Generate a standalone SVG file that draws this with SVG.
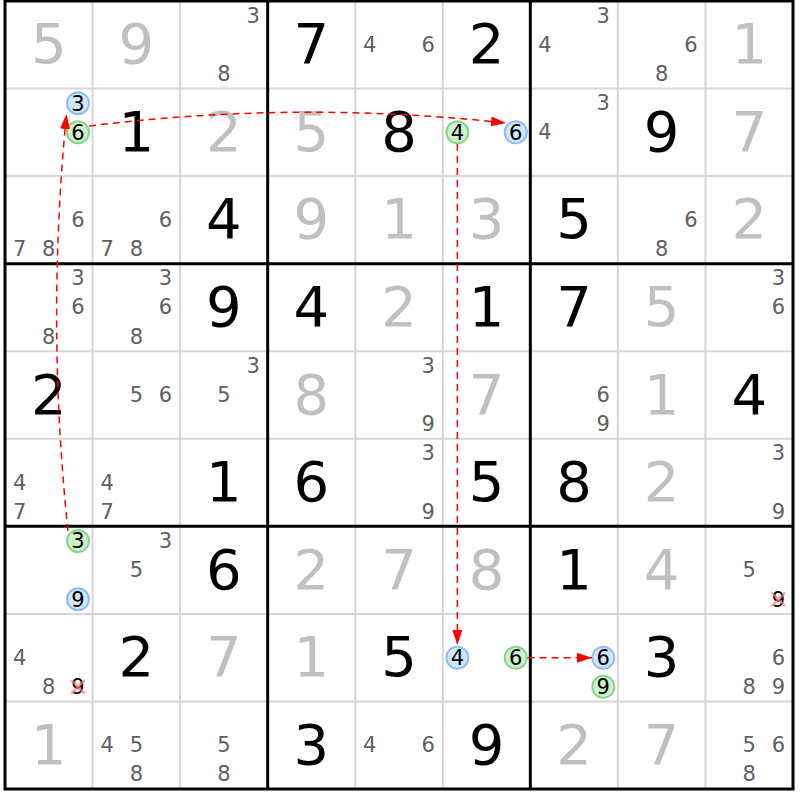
<svg xmlns="http://www.w3.org/2000/svg" width="800" height="800" viewBox="0 0 800 800">
<style>
text{font-family:"DejaVu Sans","Liberation Sans",sans-serif;text-anchor:middle}
.g{font-size:56px;fill:#000}
.s{font-size:56px;fill:#c0c0c0}
.c{font-size:21px;fill:#606060}
.k{font-size:21px;fill:#000}
.thin{stroke:#d6d6d6;stroke-width:2;fill:none}
.thick{stroke:#000;stroke-width:3;fill:none}
.blue{fill:#d2e6fc;stroke:#8ebdf3;stroke-width:2}
.green{fill:#cdf0cd;stroke:#86d686;stroke-width:2}
.x{stroke:#ff7070;stroke-opacity:0.7;stroke-width:2.5;stroke-linecap:round}
.link{stroke:#ff0000;stroke-width:1.5;fill:none;stroke-dasharray:7 5}
</style>
<defs>
<marker id="ah" markerUnits="userSpaceOnUse" markerWidth="16" markerHeight="11" refX="15" refY="5" orient="auto">
<path d="M0,0 L15,5 L0,10 Z" fill="#ff0000"/>
</marker>
</defs>
<rect x="0" y="0" width="800" height="800" fill="#fff"/>
<g id="grid">
<path class="thin" d="M92.56,1V789M180.11,1V789M355.22,1V789M442.78,1V789M617.89,1V789M705.44,1V789M5,88.56H793M5,176.11H793M5,351.22H793M5,438.78H793M5,613.89H793M5,701.44H793"/>
<path class="thick" d="M267.67,1V789M530.33,1V789M5,263.67H793M5,526.33H793"/>
<rect class="thick" x="5" y="1" width="788" height="788"/>
</g>
<g id="r0">
<g id="r0c0"><text class="s" x="48.78" y="63.3">5</text></g>
<g id="r0c1"><text class="s" x="136.33" y="63.3">9</text></g>
<g id="r0c2"><text class="c" x="253.08" y="22.6">3</text><text class="c" x="223.89" y="81">8</text></g>
<g id="r0c3"><text class="g" x="311.44" y="63.3">7</text></g>
<g id="r0c4"><text class="c" x="369.81" y="51.8">4</text><text class="c" x="428.19" y="51.8">6</text></g>
<g id="r0c5"><text class="g" x="486.56" y="63.3">2</text></g>
<g id="r0c6"><text class="c" x="603.3" y="22.6">3</text><text class="c" x="544.92" y="51.8">4</text></g>
<g id="r0c7"><text class="c" x="690.86" y="51.8">6</text><text class="c" x="661.67" y="81">8</text></g>
<g id="r0c8"><text class="s" x="749.22" y="63.3">1</text></g>
</g>
<g id="r1">
<g id="r1c0"><circle class="blue" cx="77.97" cy="103.14" r="11"/><text class="k" x="77.97" y="110.6">3</text><circle class="green" cx="77.97" cy="132.33" r="11"/><text class="k" x="77.97" y="139.8">6</text></g>
<g id="r1c1"><text class="g" x="136.33" y="150.8">1</text></g>
<g id="r1c2"><text class="s" x="223.89" y="150.8">2</text></g>
<g id="r1c3"><text class="s" x="311.44" y="150.8">5</text></g>
<g id="r1c4"><text class="g" x="399" y="150.8">8</text></g>
<g id="r1c5"><circle class="green" cx="457.37" cy="132.33" r="11"/><text class="k" x="457.37" y="139.8">4</text><circle class="blue" cx="515.75" cy="132.33" r="11"/><text class="k" x="515.75" y="139.8">6</text></g>
<g id="r1c6"><text class="c" x="603.3" y="110.1">3</text><text class="c" x="544.92" y="139.3">4</text></g>
<g id="r1c7"><text class="g" x="661.67" y="150.8">9</text></g>
<g id="r1c8"><text class="s" x="749.22" y="150.8">7</text></g>
</g>
<g id="r2">
<g id="r2c0"><text class="c" x="77.97" y="226.9">6</text><text class="c" x="19.59" y="256.1">7</text><text class="c" x="48.78" y="256.1">8</text></g>
<g id="r2c1"><text class="c" x="165.52" y="226.9">6</text><text class="c" x="107.14" y="256.1">7</text><text class="c" x="136.33" y="256.1">8</text></g>
<g id="r2c2"><text class="g" x="223.89" y="238.4">4</text></g>
<g id="r2c3"><text class="s" x="311.44" y="238.4">9</text></g>
<g id="r2c4"><text class="s" x="399" y="238.4">1</text></g>
<g id="r2c5"><text class="s" x="486.56" y="238.4">3</text></g>
<g id="r2c6"><text class="g" x="574.11" y="238.4">5</text></g>
<g id="r2c7"><text class="c" x="690.86" y="226.9">6</text><text class="c" x="661.67" y="256.1">8</text></g>
<g id="r2c8"><text class="s" x="749.22" y="238.4">2</text></g>
</g>
<g id="r3">
<g id="r3c0"><text class="c" x="77.97" y="285.3">3</text><text class="c" x="77.97" y="314.4">6</text><text class="c" x="48.78" y="343.6">8</text></g>
<g id="r3c1"><text class="c" x="165.52" y="285.3">3</text><text class="c" x="165.52" y="314.4">6</text><text class="c" x="136.33" y="343.6">8</text></g>
<g id="r3c2"><text class="g" x="223.89" y="325.9">9</text></g>
<g id="r3c3"><text class="g" x="311.44" y="325.9">4</text></g>
<g id="r3c4"><text class="s" x="399" y="325.9">2</text></g>
<g id="r3c5"><text class="g" x="486.56" y="325.9">1</text></g>
<g id="r3c6"><text class="g" x="574.11" y="325.9">7</text></g>
<g id="r3c7"><text class="s" x="661.67" y="325.9">5</text></g>
<g id="r3c8"><text class="c" x="778.41" y="285.3">3</text><text class="c" x="778.41" y="314.4">6</text></g>
</g>
<g id="r4">
<g id="r4c0"><text class="g" x="48.78" y="413.5">2</text></g>
<g id="r4c1"><text class="c" x="136.33" y="402">5</text><text class="c" x="165.52" y="402">6</text></g>
<g id="r4c2"><text class="c" x="253.08" y="372.8">3</text><text class="c" x="223.89" y="402">5</text></g>
<g id="r4c3"><text class="s" x="311.44" y="413.5">8</text></g>
<g id="r4c4"><text class="c" x="428.19" y="372.8">3</text><text class="c" x="428.19" y="431.2">9</text></g>
<g id="r4c5"><text class="s" x="486.56" y="413.5">7</text></g>
<g id="r4c6"><text class="c" x="603.3" y="402">6</text><text class="c" x="603.3" y="431.2">9</text></g>
<g id="r4c7"><text class="s" x="661.67" y="413.5">1</text></g>
<g id="r4c8"><text class="g" x="749.22" y="413.5">4</text></g>
</g>
<g id="r5">
<g id="r5c0"><text class="c" x="19.59" y="489.6">4</text><text class="c" x="19.59" y="518.8">7</text></g>
<g id="r5c1"><text class="c" x="107.14" y="489.6">4</text><text class="c" x="107.14" y="518.8">7</text></g>
<g id="r5c2"><text class="g" x="223.89" y="501.1">1</text></g>
<g id="r5c3"><text class="g" x="311.44" y="501.1">6</text></g>
<g id="r5c4"><text class="c" x="428.19" y="460.4">3</text><text class="c" x="428.19" y="518.8">9</text></g>
<g id="r5c5"><text class="g" x="486.56" y="501.1">5</text></g>
<g id="r5c6"><text class="g" x="574.11" y="501.1">8</text></g>
<g id="r5c7"><text class="s" x="661.67" y="501.1">2</text></g>
<g id="r5c8"><text class="c" x="778.41" y="460.4">3</text><text class="c" x="778.41" y="518.8">9</text></g>
</g>
<g id="r6">
<g id="r6c0"><circle class="green" cx="77.97" cy="540.92" r="11"/><text class="k" x="77.97" y="548.4">3</text><circle class="blue" cx="77.97" cy="599.3" r="11"/><text class="k" x="77.97" y="606.8">9</text></g>
<g id="r6c1"><text class="c" x="165.52" y="547.9">3</text><text class="c" x="136.33" y="577.1">5</text></g>
<g id="r6c2"><text class="g" x="223.89" y="588.6">6</text></g>
<g id="r6c3"><text class="s" x="311.44" y="588.6">2</text></g>
<g id="r6c4"><text class="s" x="399" y="588.6">7</text></g>
<g id="r6c5"><text class="s" x="486.56" y="588.6">8</text></g>
<g id="r6c6"><text class="g" x="574.11" y="588.6">1</text></g>
<g id="r6c7"><text class="s" x="661.67" y="588.6">4</text></g>
<g id="r6c8"><text class="c" x="749.22" y="577.1">5</text><text class="k" x="778.41" y="606.8">9</text><path class="x" d="M772.4,593.3L784.4,605.3M784.4,593.3L772.4,605.3"/></g>
</g>
<g id="r7">
<g id="r7c0"><text class="c" x="19.59" y="664.7">4</text><text class="c" x="48.78" y="693.9">8</text><text class="k" x="77.97" y="694.4">9</text><path class="x" d="M71.97,680.86L83.97,692.86M83.97,680.86L71.97,692.86"/></g>
<g id="r7c1"><text class="g" x="136.33" y="676.2">2</text></g>
<g id="r7c2"><text class="s" x="223.89" y="676.2">7</text></g>
<g id="r7c3"><text class="s" x="311.44" y="676.2">1</text></g>
<g id="r7c4"><text class="g" x="399" y="676.2">5</text></g>
<g id="r7c5"><circle class="blue" cx="457.37" cy="657.67" r="11"/><text class="k" x="457.37" y="665.2">4</text><circle class="green" cx="515.75" cy="657.67" r="11"/><text class="k" x="515.75" y="665.2">6</text></g>
<g id="r7c6"><circle class="blue" cx="603.3" cy="657.67" r="11"/><text class="k" x="603.3" y="665.2">6</text><circle class="green" cx="603.3" cy="686.86" r="11"/><text class="k" x="603.3" y="694.4">9</text></g>
<g id="r7c7"><text class="g" x="661.67" y="676.2">3</text></g>
<g id="r7c8"><text class="c" x="778.41" y="664.7">6</text><text class="c" x="749.22" y="693.9">8</text><text class="c" x="778.41" y="693.9">9</text></g>
</g>
<g id="r8">
<g id="r8c0"><text class="s" x="48.78" y="763.7">1</text></g>
<g id="r8c1"><text class="c" x="107.14" y="752.2">4</text><text class="c" x="136.33" y="752.2">5</text><text class="c" x="136.33" y="781.4">8</text></g>
<g id="r8c2"><text class="c" x="223.89" y="752.2">5</text><text class="c" x="223.89" y="781.4">8</text></g>
<g id="r8c3"><text class="g" x="311.44" y="763.7">3</text></g>
<g id="r8c4"><text class="c" x="369.81" y="752.2">4</text><text class="c" x="428.19" y="752.2">6</text></g>
<g id="r8c5"><text class="g" x="486.56" y="763.7">9</text></g>
<g id="r8c6"><text class="s" x="574.11" y="763.7">2</text></g>
<g id="r8c7"><text class="s" x="661.67" y="763.7">7</text></g>
<g id="r8c8"><text class="c" x="749.22" y="752.2">5</text><text class="c" x="778.41" y="752.2">6</text><text class="c" x="749.22" y="781.4">8</text></g>
</g>
<g id="connectors">
<path class="link" marker-end="url(#ah)" d="M68,531 Q46,323 66.5,114"/>
<path class="link" marker-end="url(#ah)" d="M89,126 Q297,100 506,123"/>
<path class="link" marker-end="url(#ah)" d="M457.37,144 L457.37,645"/>
<path class="link" marker-end="url(#ah)" d="M527.5,657.67 L592,657.67"/>
</g>
</svg>
